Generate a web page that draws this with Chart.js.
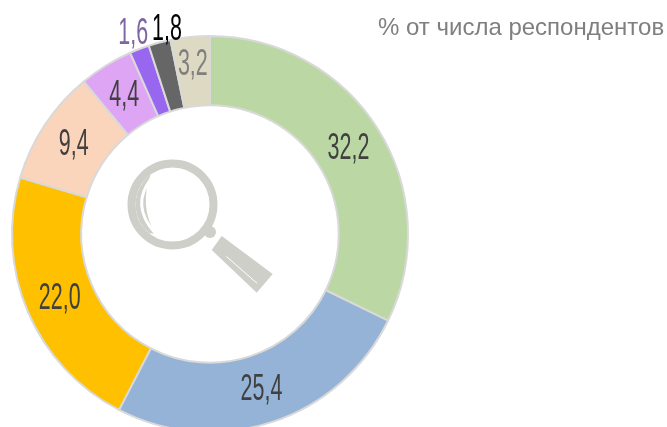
<!DOCTYPE html>
<html><head><meta charset="utf-8">
<style>html,body{margin:0;padding:0;background:#fff;overflow:hidden;width:667px;height:427px}canvas{display:block}</style>
<script src="https://cdn.jsdelivr.net/npm/chart.js@4"></script>
</head><body><canvas id="c" width="667" height="480"></canvas>
<script>
const categories = ["A","B","C","D","E","F","G","H"];
const values = [32.2,25.4,22.0,9.4,4.4,1.6,1.8,3.2];
const valueLabels = ["32,2","25,4","22,0","9,4","4,4","1,6","1,8","3,2"];
const sliceColors = ["#BBD8A4","#95B3D7","#FFC000","#FAD5BC","#DFA5F5","#9966F0","#666666","#DDD9C3"];
const labelColors = ["#404040","#404040","#404040","#404040","#404040","#8064A2","#000000","#7F7F7F"];
const labelRadiusShift = [0,0,0,0,0,52,49,8];
const labelShiftX = [0,0,0,0,0,0,11,0];
const unitNote = "% от числа респондентов";

const labelsPlugin = {
  id:'labels',
  afterDatasetsDraw(chart){
    const ctx = chart.ctx, meta = chart.getDatasetMeta(0);
    meta.data.forEach((arc,i)=>{
      const mid = (arc.startAngle+arc.endAngle)/2;
      const r = (arc.innerRadius+arc.outerRadius)/2 + labelRadiusShift[i];
      ctx.save();
      ctx.translate(arc.x+Math.cos(mid)*r+labelShiftX[i], arc.y+Math.sin(mid)*r+1);
      ctx.scale(0.58,1);
      ctx.font = '37px "Liberation Sans"';
      ctx.fillStyle = labelColors[i];
      ctx.textAlign='center'; ctx.textBaseline='middle';
      ctx.fillText(valueLabels[i],0,0);
      ctx.restore();
    });
    ctx.save();
    ctx.font = '24px "Liberation Sans"';
    ctx.fillStyle = '#7F7F7F';
    ctx.textAlign='left'; ctx.textBaseline='alphabetic';
    ctx.fillText(unitNote,378,35);
    ctx.restore();
  }
};
const magnifierPlugin = {
  id:'magnifier',
  afterDraw(chart){
    const ctx = chart.ctx, g='#CFCFC9';
    ctx.save();
    ctx.filter='blur(0.6px)';
    ctx.strokeStyle=g; ctx.lineWidth=8;
    ctx.beginPath(); ctx.arc(172.5,204.5,41,0,Math.PI*2); ctx.stroke();
    ctx.fillStyle=g;
    ctx.beginPath(); ctx.arc(210,232,6,0,Math.PI*2); ctx.fill();
    ctx.beginPath(); ctx.moveTo(221.7,236); ctx.lineTo(272.7,274); ctx.lineTo(256.7,292.7); ctx.lineTo(211.7,250); ctx.closePath(); ctx.fill();
    ctx.beginPath(); ctx.arc(172.5,204.5,37,Math.PI*0.72,Math.PI*1.3); ctx.quadraticCurveTo(139,205,155,234); ctx.closePath(); ctx.fill();
    ctx.strokeStyle='#fff'; ctx.lineWidth=3; ctx.lineCap='round';
    ctx.beginPath(); ctx.moveTo(151.7,178); ctx.quadraticCurveTo(130,205,155,233); ctx.stroke();
    ctx.lineWidth=1;
    ctx.beginPath(); ctx.moveTo(226.7,256.7); ctx.lineTo(256.7,283); ctx.stroke();
    ctx.restore();
  }
};
new Chart(document.getElementById('c'),{
  type:'doughnut',
  data:{labels:categories,datasets:[{data:values,backgroundColor:sliceColors,borderColor:'#D9D9D9',borderWidth:2}]},
  options:{
    responsive:false,animation:false,cutout:'65%',
    layout:{padding:{left:11,right:258,top:35,bottom:47}},
    plugins:{legend:{display:false},tooltip:{enabled:false}}
  },
  plugins:[labelsPlugin,magnifierPlugin]
});
</script></body></html>
